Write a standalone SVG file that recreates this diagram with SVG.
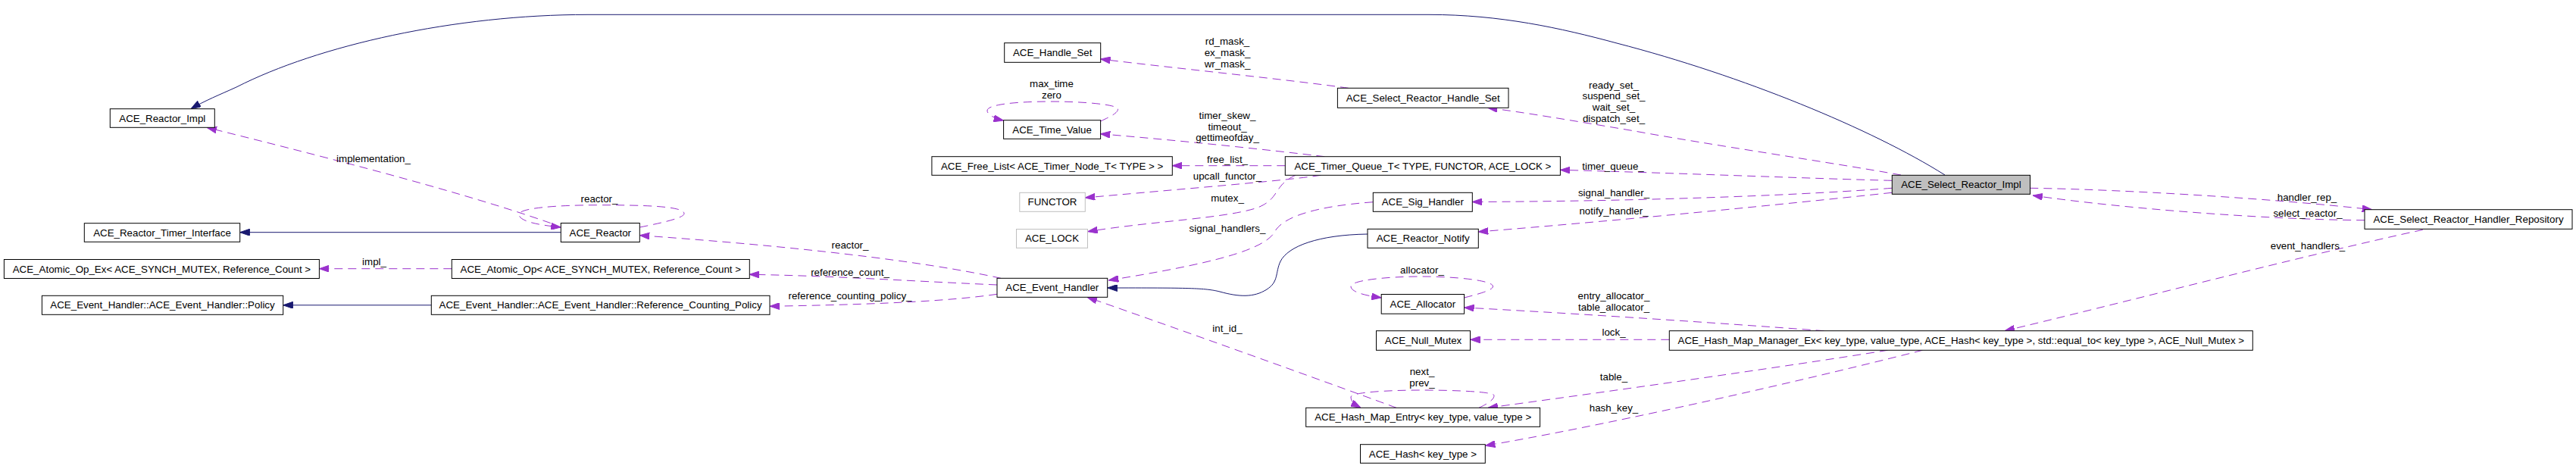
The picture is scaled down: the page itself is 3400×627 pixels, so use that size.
<svg xmlns="http://www.w3.org/2000/svg" width="3400" height="627" viewBox="0 0 3400 627">
<style>
text{font-family:"Liberation Sans",Arial,Helvetica,sans-serif;font-size:13.33px;fill:#000}
.n rect{fill:#fff;stroke:#000;stroke-width:1}
.n text{text-anchor:middle}
.g rect{stroke:#bfbfbf}
.main rect{fill:#bfbfbf}
.l{text-anchor:middle}
.inh{fill:none;stroke:#191970;stroke-width:1}
.use{fill:none;stroke:#9a32cd;stroke-width:1;stroke-dasharray:11,7}
</style>
<defs>
<marker id="ab" viewBox="0 0 13 9" refX="13" refY="4.5" markerWidth="13" markerHeight="9" markerUnits="userSpaceOnUse" orient="auto"><path d="M0,0 L13,4.5 L0,9 z" fill="#191970" stroke="#191970" stroke-width="1"/></marker>
<marker id="ap" viewBox="0 0 13 9" refX="13" refY="4.5" markerWidth="13" markerHeight="9" markerUnits="userSpaceOnUse" orient="auto"><path d="M0,0 L13,4.5 L0,9 z" fill="#9a32cd" stroke="#9a32cd" stroke-width="1"/></marker>
</defs>
<rect width="3400" height="627" fill="#fff"/>
<g id="connectors">
<path class="inh" marker-end="url(#ab)" d="M2567,231 C2470,170 2300,100 2134,57 C2060,37 1980,19.3 1886,19.3 L776,19.3 C600,19.3 420,60 312,115 C290,125 270,133 252,143.7"/>
<path class="inh" marker-end="url(#ab)" d="M740.3,306.7 L316.7,306.7"/>
<path class="inh" marker-end="url(#ab)" d="M569.3,402.8 L373.7,402.8"/>
<path class="inh" marker-end="url(#ab)" d="M1805,309 C1740,310 1700,325 1690,345 C1683,360 1688,372 1672,382 C1655,393 1635,392 1610,385 C1590,380 1570,380 1461.7,380"/>
<path class="use" marker-end="url(#ap)" d="M2509,231 C2420,215 2250,190 2156,172.7 C2080,160 2010,148 1963.5,142.3"/>
<path class="use" marker-end="url(#ap)" d="M2497,238.3 C2400,236 2200,228 2059.4,224.3"/>
<path class="use" marker-end="url(#ap)" d="M2497,248.3 C2400,256 2200,265.5 1943.4,266.5"/>
<path class="use" marker-end="url(#ap)" d="M2497,254.3 C2350,270 2150,290 1951.3,306"/>
<path class="use" marker-end="url(#ap)" d="M2679.5,248.3 C2800,250 3000,262 3130.8,276.7"/>
<path class="use" marker-end="url(#ap)" d="M3121,290.7 C2990,290 2800,275 2683,258"/>
<path class="use" marker-end="url(#ap)" d="M3197.8,303.3 C3050,335 2780,405 2646,436.7"/>
<path class="use" marker-end="url(#ap)" d="M1779.8,116.3 C1700,105 1550,90 1452.6,78"/>
<path class="use" marker-end="url(#ap)" d="M1748.3,206.7 C1650,195 1550,185 1452.3,176.7"/>
<path class="use" marker-end="url(#ap)" d="M1696.3,218.7 L1547.3,218.7"/>
<path class="use" marker-end="url(#ap)" d="M1743.3,231.3 C1700,238 1600,246 1432.3,261"/>
<path class="use" marker-end="url(#ap)" d="M1710,231.3 C1680,245 1690,262 1660,274 C1620,288 1520,292 1435.7,305.7"/>
<path class="use" marker-end="url(#ap)" d="M1812.3,266.7 C1740,272 1695,285 1683,305 C1670,330 1600,348 1463.3,370"/>
<path class="use" marker-end="url(#ap)" d="M1321,367.3 C1220,345 1050,325 844.3,310.7"/>
<path class="use" marker-end="url(#ap)" d="M1316,376 C1200,371 1100,364 989.3,362.3"/>
<path class="use" marker-end="url(#ap)" d="M1316,388.3 C1250,398 1150,402 1016,404.3"/>
<path class="use" marker-end="url(#ap)" d="M596.3,354.7 L421.4,354.7"/>
<path class="use" marker-end="url(#ap)" d="M726.7,294.5 C600,250 400,200 273,168.3"/>
<path class="use" marker-end="url(#ap)" d="M844.3,300 C880,293 903,287 903,282 C903,272 850,270.7 791,270.7 C730,270.7 685,275 685,283 C685,292 710,297 740.3,300"/>
<path class="use" marker-end="url(#ap)" d="M1452.6,160 C1470,152 1475.5,148 1475.5,144 C1475.5,138 1430,134 1388,134 C1340,134 1303,138 1303,146 C1303,152 1315,157 1324.6,159"/>
<path class="use" marker-end="url(#ap)" d="M1932.6,393 C1960,386 1970.5,382 1970.5,378 C1970.5,370 1920,365 1877,365 C1830,365 1783,370 1783,378 C1783,385 1800,390 1823.2,393"/>
<path class="use" marker-end="url(#ap)" d="M1952,538.3 C1970,530 1972,525 1972,522 C1972,517 1920,515 1877,515 C1830,515 1783,518 1783,524 C1783,530 1788,534 1796,538.3"/>
<path class="use" marker-end="url(#ap)" d="M2407.5,436.7 C2250,425 2050,412 1932.6,406"/>
<path class="use" marker-end="url(#ap)" d="M2203.3,448.3 L1940.6,448.3"/>
<path class="use" marker-end="url(#ap)" d="M2491.5,462.3 C2350,485 2100,520 1964,538.3"/>
<path class="use" marker-end="url(#ap)" d="M2537.5,462.3 C2350,510 2100,565 1960.3,588.3"/>
<path class="use" marker-end="url(#ap)" d="M1843,538.3 C1780,515 1600,450 1435,392.3"/>
<text class="l" x="493" y="214">implementation_</text>
<text class="l" x="494" y="350">impl_</text>
<text class="l" x="791" y="267">reactor_</text>
<text class="l" x="1122" y="327.5">reactor_</text>
<text class="l" x="1122" y="363.5">reference_count_</text>
<text class="l" x="1122" y="395">reference_counting_policy_</text>
<text class="l" x="1388" y="115">max_time</text>
<text class="l" x="1388" y="130">zero</text>
<text class="l" x="1620" y="59">rd_mask_</text>
<text class="l" x="1620" y="74">ex_mask_</text>
<text class="l" x="1620" y="89">wr_mask_</text>
<text class="l" x="1620" y="157">timer_skew_</text>
<text class="l" x="1620" y="171.5">timeout_</text>
<text class="l" x="1620" y="186">gettimeofday_</text>
<text class="l" x="1620" y="214.5">free_list_</text>
<text class="l" x="1620" y="236.8">upcall_functor_</text>
<text class="l" x="1620" y="265.8">mutex_</text>
<text class="l" x="1620" y="306">signal_handlers_</text>
<text class="l" x="1620" y="438">int_id_</text>
<text class="l" x="2130" y="117">ready_set_</text>
<text class="l" x="2130" y="131">suspend_set_</text>
<text class="l" x="2130" y="146">wait_set_</text>
<text class="l" x="2130" y="160.8">dispatch_set_</text>
<text class="l" x="2129" y="223.5">timer_queue_</text>
<text class="l" x="2130" y="259">signal_handler_</text>
<text class="l" x="2130" y="282.8">notify_handler_</text>
<text class="l" x="3045" y="265">handler_rep_</text>
<text class="l" x="3046" y="286">select_reactor_</text>
<text class="l" x="3046" y="329">event_handlers_</text>
<text class="l" x="1877" y="361">allocator_</text>
<text class="l" x="2130" y="395">entry_allocator_</text>
<text class="l" x="2130" y="410">table_allocator_</text>
<text class="l" x="2130" y="442.8">lock_</text>
<text class="l" x="1877" y="495">next_</text>
<text class="l" x="1877" y="510">prev_</text>
<text class="l" x="2130" y="502">table_</text>
<text class="l" x="2130" y="542.8">hash_key_</text>
</g>
<g id="n_select_reactor_impl" class="n main"><rect x="2497.3" y="231.3" width="182.2" height="25"/><text x="2588.4" y="248.3">ACE_Select_Reactor_Impl</text></g>
<g id="n_reactor_impl" class="n"><rect x="145.3" y="143.7" width="138" height="24.6"/><text x="214.3" y="160.5">ACE_Reactor_Impl</text></g>
<g id="n_reactor_timer_interface" class="n"><rect x="111.3" y="294.7" width="205.4" height="24.6"/><text x="214" y="311.5">ACE_Reactor_Timer_Interface</text></g>
<g id="n_reactor" class="n"><rect x="740.3" y="294.5" width="104" height="25"/><text x="792.3" y="311.5">ACE_Reactor</text></g>
<g id="n_atomic_op_ex" class="n"><rect x="5.4" y="342.5" width="416" height="25"/><text x="213.4" y="359.5">ACE_Atomic_Op_Ex&lt; ACE_SYNCH_MUTEX, Reference_Count &gt;</text></g>
<g id="n_atomic_op" class="n"><rect x="596.3" y="342.5" width="393" height="25"/><text x="792.8" y="359.5">ACE_Atomic_Op&lt; ACE_SYNCH_MUTEX, Reference_Count &gt;</text></g>
<g id="n_policy" class="n"><rect x="55.4" y="390.3" width="318.3" height="25"/><text x="214.5" y="407.3">ACE_Event_Handler::ACE_Event_Handler::Policy</text></g>
<g id="n_ref_counting_policy" class="n"><rect x="569.3" y="390.3" width="446.7" height="25"/><text x="792.6" y="407.3">ACE_Event_Handler::ACE_Event_Handler::Reference_Counting_Policy</text></g>
<g id="n_event_handler" class="n"><rect x="1316" y="367.3" width="145.7" height="25"/><text x="1388.8" y="384.3">ACE_Event_Handler</text></g>
<g id="n_handle_set" class="n"><rect x="1325.7" y="56.7" width="127" height="25.6"/><text x="1389.2" y="74">ACE_Handle_Set</text></g>
<g id="n_select_reactor_handle_set" class="n"><rect x="1765.4" y="116.3" width="225.6" height="26"/><text x="1878.2" y="133.8">ACE_Select_Reactor_Handle_Set</text></g>
<g id="n_time_value" class="n"><rect x="1324.6" y="158.7" width="128" height="24.6"/><text x="1388.6" y="175.5">ACE_Time_Value</text></g>
<g id="n_free_list" class="n"><rect x="1229.9" y="206.7" width="317.4" height="24.6"/><text x="1388.6" y="223.5">ACE_Free_List&lt; ACE_Timer_Node_T&lt; TYPE &gt; &gt;</text></g>
<g id="n_timer_queue" class="n"><rect x="1696.3" y="206.7" width="363.1" height="24.6"/><text x="1877.9" y="223.5">ACE_Timer_Queue_T&lt; TYPE, FUNCTOR, ACE_LOCK &gt;</text></g>
<g id="n_functor" class="n g"><rect x="1345.8" y="254.3" width="86.5" height="25"/><text x="1389" y="271.3">FUNCTOR</text></g>
<g id="n_lock" class="n g"><rect x="1341.5" y="302.5" width="94" height="24.8"/><text x="1388.5" y="319.4">ACE_LOCK</text></g>
<g id="n_sig_handler" class="n"><rect x="1812.3" y="254.3" width="131" height="25"/><text x="1877.8" y="271.3">ACE_Sig_Handler</text></g>
<g id="n_reactor_notify" class="n"><rect x="1805" y="302.3" width="146.3" height="25"/><text x="1878.2" y="319.3">ACE_Reactor_Notify</text></g>
<g id="n_allocator" class="n"><rect x="1823.2" y="388.5" width="109.4" height="25.7"/><text x="1877.9" y="405.8">ACE_Allocator</text></g>
<g id="n_null_mutex" class="n"><rect x="1816.5" y="436.7" width="124" height="25.6"/><text x="1878.5" y="454">ACE_Null_Mutex</text></g>
<g id="n_hash_map_manager_ex" class="n"><rect x="2203.3" y="436.7" width="770" height="25.6"/><text x="2588.3" y="454">ACE_Hash_Map_Manager_Ex&lt; key_type, value_type, ACE_Hash&lt; key_type &gt;, std::equal_to&lt; key_type &gt;, ACE_Null_Mutex &gt;</text></g>
<g id="n_hash_map_entry" class="n"><rect x="1723.7" y="538.3" width="308.9" height="25"/><text x="1878.2" y="555.3">ACE_Hash_Map_Entry&lt; key_type, value_type &gt;</text></g>
<g id="n_hash" class="n"><rect x="1795.5" y="586.7" width="164.8" height="24.6"/><text x="1877.9" y="603.5">ACE_Hash&lt; key_type &gt;</text></g>
<g id="n_handler_repository" class="n"><rect x="3121" y="276.7" width="274" height="25.6"/><text x="3258" y="294">ACE_Select_Reactor_Handler_Repository</text></g>
</svg>
